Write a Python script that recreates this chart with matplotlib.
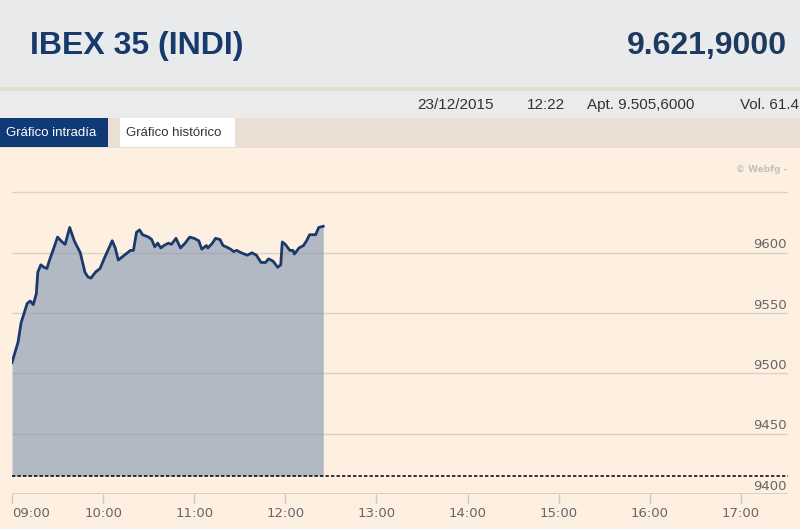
import matplotlib.pyplot as plt
from matplotlib.patches import Rectangle

# intraday series, minutes after 09:00
minutes = [0, 4, 6, 8, 10, 12, 14, 16, 17, 19, 21, 23, 25, 27, 30, 33, 35,
           38, 41, 45, 48, 50, 52, 55, 58, 61, 66, 68, 70, 73, 76, 78, 80,
           82, 84, 86, 90, 92, 94, 96, 98, 100, 103, 105, 108, 111, 114, 117,
           120, 123, 125, 128, 129, 132, 134, 137, 139, 141, 144, 146, 148,
           151, 155, 158, 161, 164, 167, 169, 172, 175, 177, 178, 180, 183,
           185, 186, 189, 192, 194, 196, 200, 202, 205]
values = [9509, 9526, 9542, 9550, 9558, 9560, 9557, 9566, 9584, 9590, 9588,
          9587, 9595, 9602, 9613, 9609, 9607, 9621, 9610, 9600, 9584, 9580,
          9579, 9584, 9587, 9596, 9610, 9604, 9594, 9597, 9600, 9602, 9602,
          9617, 9619, 9615, 9613, 9611, 9605, 9608, 9604, 9606, 9608, 9607,
          9612, 9604, 9608, 9613, 9612, 9610, 9603, 9606, 9604, 9608, 9612,
          9611, 9606, 9605, 9603, 9601, 9602, 9600, 9598, 9600, 9598, 9592,
          9592, 9595, 9593, 9588, 9590, 9609, 9607, 9602, 9602, 9599, 9604,
          9606, 9610, 9615, 9615, 9621, 9622]
prev_close = 9415
y_ticks = [9400, 9450, 9500, 9550, 9600]
grid_levels = [9450, 9500, 9550, 9600, 9650]
hours = [9, 10, 11, 12, 13, 14, 15, 16, 17]
hour_labels = ['09:00', '10:00', '11:00', '12:00', '13:00', '14:00', '15:00', '16:00', '17:00']

W, H = 800, 529
fig = plt.figure(figsize=(W / 100, H / 100), dpi=100)


def box(x0, y0, x1, y1, color):
    # pixel coords, y from top
    fig.add_artist(Rectangle((x0 / W, 1 - y1 / H), (x1 - x0) / W, (y1 - y0) / H,
                             transform=fig.transFigure, color=color, lw=0, zorder=0))


box(0, 0, W, 87, '#e9eaec')
box(0, 87, W, 91, '#e6ddd2')
box(0, 91, W, 118, '#ebebeb')
box(0, 118, W, 148, '#e9dfd3')
box(0, 148, W, H, '#fdf0e0')
box(0, 118, 108, 147, '#0f3a75')
box(120, 118, 235, 147, '#ffffff')

fig.text(30 / W, 1 - 46 / H, 'IBEX 35 (INDI)', family='Liberation Sans', weight='bold',
         size=23, color='#17396b', va='center', ha='left')
fig.text(787 / W, 1 - 46 / H, '9.621,9000', family='Liberation Sans', weight='bold',
         size=23, color='#1f3a5f', va='center', ha='right')
info_font = dict(family='Liberation Sans', size=11, color='#333333', va='center')
fig.text(417 / W, 1 - 105 / H, '23/12/2015', **info_font)
fig.text(527 / W, 1 - 105 / H, '12:22', **info_font)
fig.text(587 / W, 1 - 105 / H, 'Apt. 9.505,6000', **info_font)
fig.text(740 / W, 1 - 105 / H, 'Vol. 61.4', **info_font)
fig.text(6 / W, 1 - 133 / H, 'Gráfico intradía', family='Liberation Sans', size=9.5,
         color='white', va='center')
fig.text(126 / W, 1 - 133 / H, 'Gráfico histórico', family='Liberation Sans', size=9.5,
         color='#333333', va='center')
fig.text(787 / W, 1 - 170 / H, '© Webfg -', size=6.5, weight='bold',
         color='#c8c2b8', ha='right', va='center')

ax = fig.add_axes([12 / W, (H - 494) / H, 776 / W, 334 / H])
ax.set_facecolor('none')
t = [9 + m / 60 for m in minutes]
ax.fill_between(t, values, prev_close, color='#b3b9c4', lw=0, zorder=1)
ax.plot(t, values, color='#1b3a6b', lw=2.0, zorder=3, solid_joinstyle='round')
for g in grid_levels:
    ax.axhline(g, color='#8f8f8f', alpha=0.3, lw=1, zorder=2)
ax.axhline(9400, color='#cfcac2', lw=1.2, zorder=2)
ax.axhline(prev_close, color='black', lw=1.1, ls=(0, (2.2, 1.4)), zorder=4)

ax.set_xlim(9, 9 + 776 / 91.1)
ax.set_ylim(9400, 9400 + 334 / 60.3 * 50)
for s in ax.spines.values():
    s.set_visible(False)
ax.set_yticks([])
ax.set_xticks(hours)
ax.set_xticklabels(hour_labels)
ax.tick_params(axis='x', length=6.5, width=1, color='#cbc6be', labelcolor='#666666',
               labelsize=9.5, pad=3)
ax.get_xticklabels()[0].set_horizontalalignment('left')
for v in y_ticks:
    ax.text(0.998, v + 1.2, str(v), transform=ax.get_yaxis_transform(), ha='right',
            va='bottom', size=9.5, color='#666666')

fig.savefig('out.png', dpi=100)
